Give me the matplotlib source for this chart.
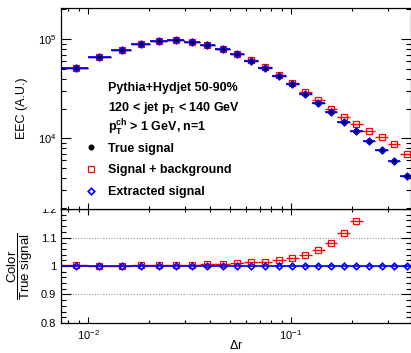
import numpy as np
import matplotlib
matplotlib.use('Agg')
import matplotlib.pyplot as plt
import matplotlib.ticker as mtick
from matplotlib.lines import Line2D
from matplotlib.patches import Rectangle

plt.rcParams['font.family'] = 'Liberation Sans'
plt.rcParams['mathtext.fontset'] = 'custom'
plt.rcParams['mathtext.rm'] = 'Liberation Sans'
plt.rcParams['mathtext.it'] = 'Liberation Sans:italic'
plt.rcParams['mathtext.bf'] = 'Liberation Sans:bold'

# bin edges and centres in delta r
bin_edges = [0.00736, 0.0100, 0.01298, 0.01628, 0.0202, 0.0245, 0.02971, 0.03561,
             0.04222, 0.05006, 0.05869, 0.06879, 0.0806, 0.09395, 0.1089, 0.1269,
             0.1471, 0.1694, 0.1953, 0.2262, 0.2607, 0.3004, 0.3462, 0.4012]
bin_centers = [0.008696, 0.01137, 0.01466, 0.01824, 0.02238, 0.02704, 0.03253, 0.03871,
               0.04609, 0.0542, 0.06353, 0.07447, 0.08697, 0.1011, 0.1176, 0.1363,
               0.1574, 0.1824, 0.2098, 0.243, 0.2798, 0.3228, 0.3727]

true_signal = [51500, 65800, 78000, 89700, 95300, 97700, 94600, 87600, 79800, 70500,
               60400, 51700, 42600, 35300, 28200, 22800, 18300, 14600, 11900, 9470,
               7620, 5940, 4190]
signal_plus_bkg = [51600, 65900, 78100, 89900, 95600, 98000, 95000, 88100, 80400, 71300,
                   61200, 52500, 43500, 36300, 29300, 24100, 19800, 16300, 13800, 11900,
                   10200, 8730, 6870]
extracted_signal = [51500, 65800, 78000, 89700, 95300, 97700, 94600, 87600, 79800, 70500,
                    60400, 51700, 42600, 35300, 28200, 22800, 18300, 14600, 11900, 9470,
                    7620, 5940, 4190]

info_lines = ['Pythia+Hydjet 50-90%',
              r'120 < jet $\mathbf{p_{T}}$ < 140 GeV',
              r'$\mathbf{p_{T}^{ch}}$ > 1 GeV, n=1']

x = np.array(bin_centers)
edges = np.array(bin_edges)
xerr = [x - edges[:-1], edges[1:] - x]
true_arr = np.array(true_signal)
sb_arr = np.array(signal_plus_bkg)
ex_arr = np.array(extracted_signal)

red = '#ff0000'
blue = '#0000ff'

fig = plt.figure(figsize=(4.11, 3.53), dpi=100)
ax = fig.add_axes([0.1484, 0.4079, 0.8516, 0.5694], zorder=2)
axr = fig.add_axes([0.1484, 0.085, 0.8516, 0.3229], zorder=0)

# top panel
ax.errorbar(x, sb_arr, xerr=xerr, fmt='s', color=red, mfc='none', mec=red,
            ms=4.5, mew=0.9, elinewidth=1.0, capsize=0)
ax.errorbar(x, true_arr, xerr=xerr, fmt='o', color='black', ms=3.3,
            elinewidth=1.0, capsize=0)
ax.errorbar(x, ex_arr, xerr=xerr, fmt='D', color=blue, mfc='none', mec=blue,
            ms=3.3, mew=1.2, elinewidth=1.2, capsize=0)

ax.set_xscale('log')
ax.set_yscale('log')
ax.set_xlim(0.00736, 0.39)
ax.set_ylim(1932, 2.07e5)
ax.set_ylabel('EEC (A.U.)', fontsize=9)
ax.yaxis.set_label_coords(-0.094, 0.5)
ax.xaxis.set_major_formatter(mtick.NullFormatter())
ax.xaxis.set_minor_formatter(mtick.NullFormatter())
ax.yaxis.set_minor_formatter(mtick.NullFormatter())

for i, line in enumerate(info_lines):
    ax.text(0.135, 0.603 - i * 0.1, line, transform=ax.transAxes,
            fontsize=9, fontweight='bold', va='center', ha='left')

handles = [Line2D([], [], ls='none', marker='o', color='black', ms=3.3),
           Line2D([], [], ls='none', marker='s', mfc='none', mec=red, ms=4.5, mew=0.9),
           Line2D([], [], ls='none', marker='D', mfc='none', mec=blue, ms=3.3, mew=1.2)]
labels = ['True signal', 'Signal + background', 'Extracted signal']
leg = ax.legend(handles, labels, loc='upper left', bbox_to_anchor=(0.075, 0.33),
                frameon=False, handlelength=0.6, handletextpad=1.1,
                labelspacing=0.78, borderpad=0, borderaxespad=0,
                prop={'weight': 'bold', 'size': 9})

# ratio panel
for yv in [0.9, 1.0, 1.1]:
    axr.axhline(yv, color='#999999', ls=(0, (1, 1.5)), lw=0.8, zorder=0)
axr.errorbar(x, sb_arr / true_arr, xerr=xerr, fmt='s', color=red, mfc='none', mec=red,
             ms=4.5, mew=0.9, elinewidth=1.0, capsize=0)
axr.errorbar(x, ex_arr / true_arr, xerr=xerr, fmt='D', color=blue, mfc='none', mec=blue,
             ms=3.3, mew=1.2, elinewidth=1.2, capsize=0)
axr.set_xscale('log')
axr.set_xlim(0.00736, 0.39)
axr.set_ylim(0.8, 1.2)
axr.set_yticks([0.8, 0.9, 1.0, 1.1, 1.2])
axr.set_yticklabels(['0.8', '0.9', '1', '1.1', '1.2'])
axr.yaxis.set_minor_locator(mtick.MultipleLocator(0.02))
axr.xaxis.set_minor_formatter(mtick.NullFormatter())
axr.set_xlabel(r'$\Delta$r', fontsize=9)
axr.xaxis.set_label_coords(0.5, -0.14)
axr.set_ylabel(r'$\dfrac{\mathrm{Color}}{\mathrm{True\ signal}}$', fontsize=9.5)
axr.yaxis.set_label_coords(-0.075, 0.5)

for a in (ax, axr):
    a.tick_params(which='both', direction='in', top=True, right=True, labelsize=8, width=0.8)
    a.tick_params(axis='y', which='major', length=7)
    a.tick_params(axis='y', which='minor', length=3.6)
    a.tick_params(axis='x', which='major', length=4.5)
    a.tick_params(axis='x', which='minor', length=2.5)
    for s in a.spines.values():
        s.set_linewidth(0.9)

# hide the upper half of the 1.2 label, as in the original pad layout
fig.patches.append(Rectangle((0, 0.408), 0.146, 0.04, transform=fig.transFigure,
                             facecolor='white', edgecolor='none', zorder=1))

fig.savefig('out.png', dpi=100)
